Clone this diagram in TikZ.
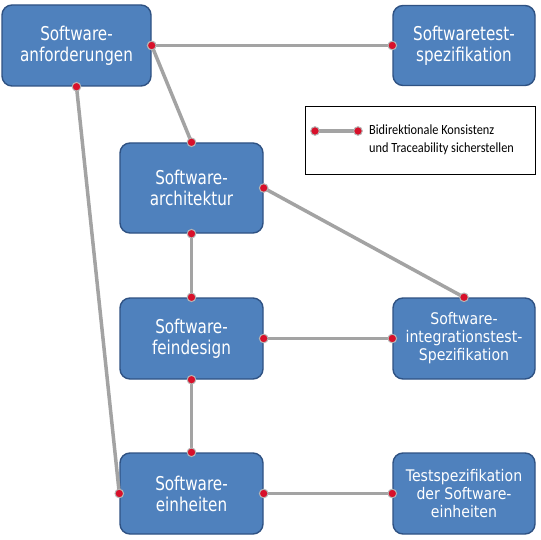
\documentclass[tikz,border=0pt]{standalone}
\usepackage{fontspec}
\usepackage{tikz}
\usetikzlibrary{calc}
\newfontfamily\boxfont[FakeStretch=0.8]{DejaVu Sans}
\newfontfamily\smallboxfont[FakeStretch=0.88]{DejaVu Sans}
\newfontfamily\legendfont[FakeStretch=0.88]{Carlito}
\definecolor{boxblue}{HTML}{4F81BD}
\definecolor{boxedge}{HTML}{2F5283}
\definecolor{linkgray}{HTML}{A3A3A3}
\definecolor{dotred}{HTML}{D8102A}
\tikzset{
  swbox/.style={draw=boxedge, fill=boxblue, line width=1.4pt, rounded corners=10pt,
    text=white, align=center, inner sep=0pt, font=\boxfont\fontsize{19}{21}\selectfont},
  swsmall/.style={swbox, font=\smallboxfont\fontsize{16}{18}\selectfont},
  linkline/.style={draw=linkgray, line width=3.5pt},
  linkdot/.style={fill=dotred, draw=linkgray!80, line width=1pt}
}
\def\link(#1)(#2){\draw[linkline] (#1) -- (#2);
  \draw[linkdot] (#1) circle (4.3pt); \draw[linkdot] (#2) circle (4.3pt);}

\begin{document}
\begin{tikzpicture}[x=1pt, y=-1pt]
			%%%%% START %%%%%
			\useasboundingbox (0, 0) rectangle (540, 540);
			
			\node[swbox, minimum width=149pt, minimum height=81pt] (anf) at (76.5, 45.5) {Software-\\anforderungen};
			\node[swbox, minimum width=142pt, minimum height=80pt] (tsp) at (464, 45.5) {Softwaretest-\\spezifikation};
			\node[swbox, minimum width=143pt, minimum height=90pt] (arch) at (191.5, 188) {Software-\\architektur};
			\node[swbox, minimum width=143pt, minimum height=81pt] (fein) at (191.5, 338.5) {Software-\\feindesign};
			\node[swsmall, minimum width=142pt, minimum height=81pt] (integ) at (464, 338.5) {Software-\\integrationstest-\\Spezifikation};
			\node[swbox, minimum width=143pt, minimum height=81pt] (einh) at (191.5, 493.5) {Software-\\einheiten};
			\node[swsmall, minimum width=142pt, minimum height=81pt] (tseinh) at (464, 493.5) {Testspezifikation\\der Software-\\einheiten};
			
			\link(anf.east)(tsp.west)
			\link(anf.east)(arch.north)
			\link(anf.south)(einh.west)
			\link(arch.east)(integ.north)
			\link(arch.south)(fein.north)
			\link(fein.east)(integ.west)
			\link(fein.south)(einh.north)
			\link(einh.east)(tseinh.west)
			
			% legend
			\draw[line width=1pt] (305, 107) rectangle (535, 174);
			\coordinate (legA) at (315, 131);
			\coordinate (legB) at (358, 131);
			\link(legA)(legB)
			\node[anchor=west, align=left, inner sep=0pt, font=\legendfont\fontsize{14}{18}\selectfont] (legtext) at (369, 140) {Bidirektionale Konsistenz\\und Traceability sicherstellen};
			
			%%%%% END %%%%%
\end{tikzpicture}
\end{document}
